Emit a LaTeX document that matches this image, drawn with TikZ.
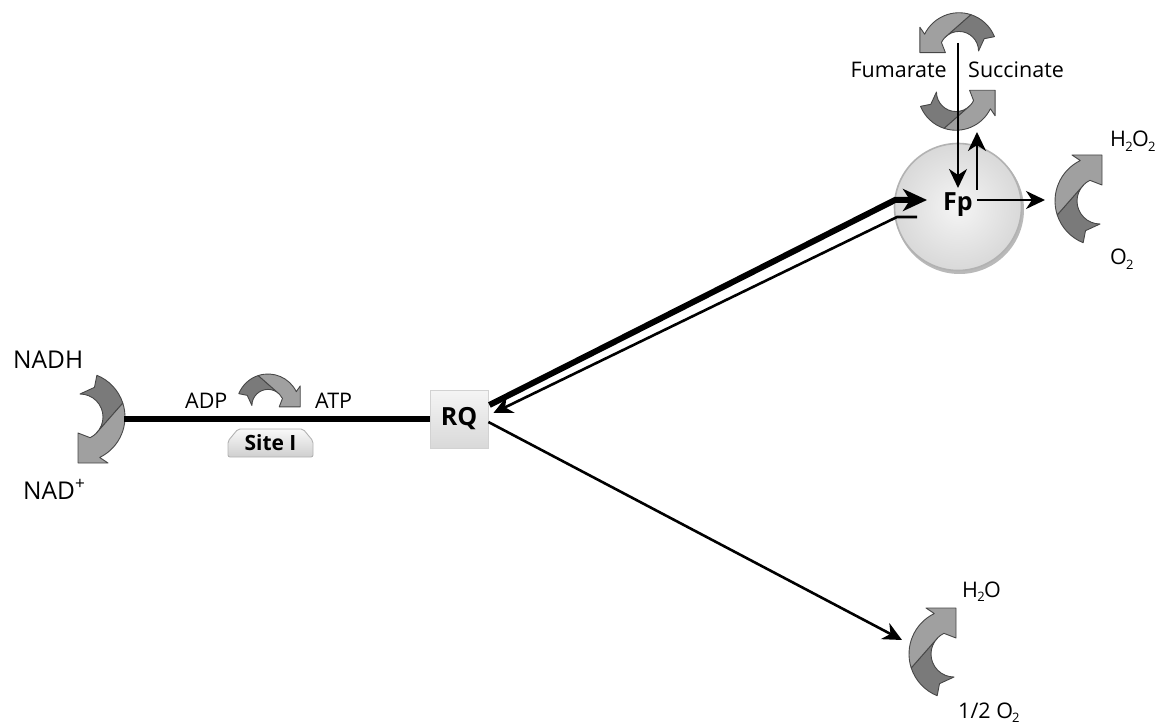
\documentclass[tikz,border=0pt]{standalone}
\usepackage{fontspec}
\setmainfont{Open Sans}
\usetikzlibrary{arrows.meta,calc}
\definecolor{tailgray}{HTML}{7A7A7A}
\definecolor{headgray}{HTML}{A0A0A0}
\definecolor{rimgray}{HTML}{474747}
% small, tightly set chemical subscript
\newcommand\sbt[1]{\kern-0.8pt\raisebox{-4.5pt}{\fontsize{13}{13}\selectfont#1}\kern-0.6pt}
\tikzset{
  % two-tone bent arrow: notched tail (dark) and right-angled head (light)
  bendarrow/.pic={
    \filldraw[fill=tailgray,draw=rimgray,line width=0.9pt,line join=round]
      (68:45) arc[start angle=68,end angle=18,radius=45] -- (-45:23)
      arc[start angle=-45,end angle=90,radius=23] -- (64:33) -- cycle;
    \filldraw[fill=headgray,draw=rimgray,line width=0.9pt,line join=round]
      (18:45) arc[start angle=18,end angle=-64,radius=45] -- (28,-46) -- (-2,-46)
      -- (-2,-16) -- (-64:23) arc[start angle=-64,end angle=-45,radius=23] -- cycle;
  },
  lbl/.style={font=\fontsize{21.5}{24}\selectfont, inner sep=0pt},
  biglbl/.style={font=\fontsize{24.5}{27}\selectfont, inner sep=0pt},
  boldlbl/.style={font=\fontsize{25}{28}\selectfont\bfseries, inner sep=0pt},
  heavy/.style={line width=6pt},
  slim/.style={line width=2.6pt},
  bigtip/.style={-{Stealth[length=24pt,width=22pt,inset=7pt]}},
  smalltip/.style={-{Stealth[length=19pt,width=18pt,inset=6pt]}},
  rqbox/.style={draw=gray!35, line width=0.8pt, top color=gray!8, bottom color=gray!30,
    minimum width=58pt, minimum height=58pt, inner sep=0pt},
  fpball/.style={circle, draw=gray!60, line width=1.6pt, inner color=gray!8, outer color=gray!30,
    minimum size=127pt, inner sep=0pt},
}
\begin{document}
\begin{tikzpicture}[x=1pt,y=1pt]
\useasboundingbox (0,0) rectangle (1156,724);

% bent reaction arrows
\begin{scope}[shift={(80,307)}] \pic[transform shape] {bendarrow}; \end{scope}
\begin{scope}[shift={(268,318.5)}, scale=0.7, rotate=90] \pic[transform shape] {bendarrow}; \end{scope}
\begin{scope}[shift={(959,673)}, scale=0.85, xscale=-1, rotate=90] \pic[transform shape] {bendarrow}; \end{scope}
\begin{scope}[shift={(956,632)}, scale=0.85, yscale=-1, rotate=90] \pic[transform shape] {bendarrow}; \end{scope}
\begin{scope}[shift={(1100,523)}, rotate=180] \pic[transform shape] {bendarrow}; \end{scope}
\begin{scope}[shift={(954,70)}, rotate=180] \pic[transform shape] {bendarrow}; \end{scope}

% flavoprotein disc
\fill[gray!55] (959.5,514.5) circle[radius=64.5];
\node[fpball] (fpc) at (958,517) {};
\node[boldlbl] (fp) at (958,519) {Fp};

% ubiquinone box
\node[rqbox] (rq) at (459,305) {};
\node[boldlbl] (rqt) at (rq) {RQ};

% Site I tab
\shade[top color=gray!5, bottom color=gray!38, draw=gray!60, line width=0.9pt, rounded corners=2pt]
  (228,267) -- (228,283) -- (238,295) -- (303,295) -- (313,283) -- (313,267) -- cycle;
\node[font=\fontsize{21}{24}\selectfont\bfseries, inner sep=0pt] (site) at (270.5,281) {Site I};

% connectors
\coordinate (nadhin) at (124,305);
\coordinate (h2oin) at (902,84);
\draw[heavy] (nadhin) -- (rq.west);
\draw[heavy, bigtip] ($(rq.east)+(1,14)$) -- ($(fpc.center)+(-63,7)$) -- ($(fpc.center)+(-31,7)$);
\draw[slim, smalltip] ($(fpc.center)+(-41,-10)$) -- ($(fpc.center)+(-61,-10)$) -- ($(rq.east)+(5,6)$);
\draw[slim, smalltip] ($(rq.east)+(0,-3)$) -- (h2oin);
\draw[slim, smalltip] (958,681) -- ($(fpc.center)+(0,19)$);
\draw[slim, smalltip] ($(fpc.center)+(19,17)$) -- ($(fpc.center)+(19,75)$);
\draw[slim, smalltip] ($(fpc.center)+(19,7)$) -- ($(fpc.center)+(87,7)$);

% labels
\node[biglbl, anchor=base west] (nadh) at (13,356) {NADH};
\node[biglbl, anchor=base west] (nad) at (23,225) {NAD\textsuperscript{+}};
\node[lbl, anchor=base west] (adp) at (185,316) {ADP};
\node[lbl, anchor=base west] (atp) at (315,316) {ATP};
\node[lbl, anchor=base east] (fum) at (947,646) {Fumarate};
\node[lbl, anchor=base west] (suc) at (968,646) {Succinate};
\node[lbl, anchor=base west] (hho) at (1110,577) {H\sbt{2}O\sbt{2}};
\node[lbl, anchor=base west] (oo) at (1110,459) {O\sbt{2}};
\node[lbl, anchor=base west] (ho) at (962,127) {H\sbt{2}O};
\node[lbl, anchor=base west] (half) at (958,6) {1/2 O\sbt{2}};
\end{tikzpicture}
\end{document}
